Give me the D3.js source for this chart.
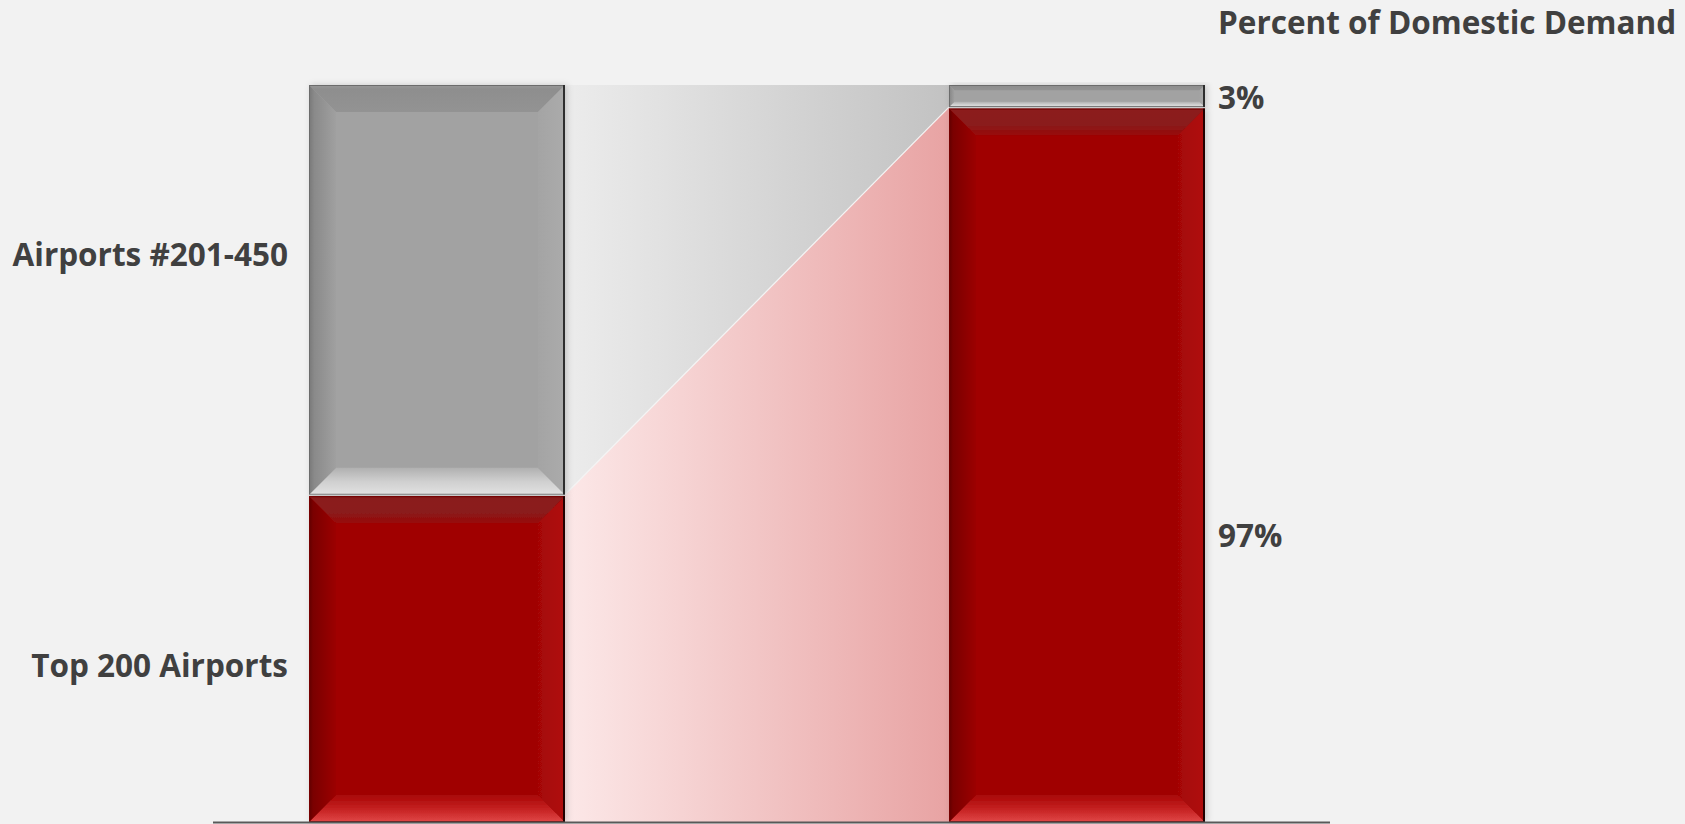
<!DOCTYPE html>
<html>
<head>
<meta charset="utf-8">
<script src="https://cdn.jsdelivr.net/npm/d3@7"></script>
<style>
  body { margin: 0; background: #f2f2f2; }
  svg text { font-family: "Open Sans", sans-serif; font-weight: 700; fill: #404040; }
</style>
</head>
<body>
<svg id="chart" width="1685" height="824"></svg>
<script>
// data
const columns = ["Share of Airports", "Percent of Domestic Demand"];
const segmentKeys = ["top", "rest"];
const segmentNames = ["Top 200 Airports", "Airports #201-450"];
const top200 = [44.4, 97];
const others = [55.6, 3];
const valueLabels = ["97%", "3%"];
const title = "Percent of Domestic Demand";

const svg = d3.select("#chart");

const table = columns.map((c, i) => ({ col: c, top: top200[i], rest: others[i] }));
const stacked = d3.stack().keys(segmentKeys)(table);

const x = d3.scaleBand().domain(columns).range([309, 1205]).paddingInner(0.6).paddingOuter(0);
const y = d3.scaleLinear().domain([0, 100]).range([822, 85]);
const bw = x.bandwidth();

const defs = svg.append("defs");
function grad(id, stops, vertical) {
    const g = defs.append("linearGradient").attr("id", id)
        .attr("x1", 0).attr("y1", 0)
        .attr("x2", vertical ? 0 : 1).attr("y2", vertical ? 1 : 0);
    stops.forEach(s => g.append("stop").attr("offset", s[0]).attr("stop-color", s[1]));
}

// connecting bands
grad("band-red", [[0, "#fce8e8"], [1, "#e8a3a3"]]);
grad("band-gray", [[0, "#ececec"], [1, "#c2c2c2"]]);

// bevel colours for each series
const bevel = {
    top: { base: "#a00404",
           top: [[0, "#8c1a1a"], [0.6, "#8a1c1c"], [1, "#980606"]],
           left: [[0, "#600000"], [0.15, "#7a0000"], [1, "#9c0404"]],
           right: [[0, "#a40606"], [1, "#b00c0c"]],
           bottom: [[0, "#a80707"], [0.5, "#c42020"], [1, "#e04646"]],
           edgeL: "#760000", edgeR: "#220000" },
    rest: { base: "#a2a2a2",
            top: [[0, "#999999"], [0.15, "#8e8e8e"], [1, "#939393"]],
            left: [[0, "#787878"], [0.2, "#8a8a8a"], [1, "#a0a0a0"]],
            right: [[0, "#a4a4a4"], [1, "#ababab"]],
            bottom: [[0, "#b0b0b0"], [0.5, "#cfcfcf"], [1, "#e2e2e2"]],
            edgeL: "#6c6c6c", edgeR: "#2e2e2e" }
};
Object.entries(bevel).forEach(([k, c]) => {
    grad(`bv-${k}-t`, c.top, true);
    grad(`bv-${k}-b`, c.bottom, true);
    grad(`bv-${k}-l`, c.left);
    grad(`bv-${k}-r`, c.right);
});

const shadow = defs.append("filter").attr("id", "shadow").attr("x", "-10%").attr("y", "-10%")
    .attr("width", "120%").attr("height", "120%");
shadow.append("feDropShadow").attr("dx", 2).attr("dy", 0).attr("stdDeviation", 3)
    .attr("flood-color", "#000").attr("flood-opacity", 0.18);

// connecting areas between the two bars
const lx = x(columns[0]) + bw, rx = x(columns[1]);
const band = d3.area()
    .x((d, i) => i === 0 ? lx : rx)
    .y0(d => y(d[0]))
    .y1(d => y(d[1]));

svg.append("g").selectAll("path")
    .data(stacked)
    .join("path")
    .attr("d", layer => band(layer))
    .attr("fill", layer => layer.key === "top" ? "url(#band-red)" : "url(#band-gray)");

// thin light diagonal between the two bands
svg.append("line")
    .attr("x1", lx).attr("y1", y(top200[0]))
    .attr("x2", rx).attr("y2", y(top200[1]))
    .attr("stroke", "#f4f4f4").attr("stroke-width", 1.2);

// bars with bevel
const bars = svg.append("g");
stacked.forEach(layer => {
    const c = bevel[layer.key];
    layer.forEach(d => {
        const x0 = x(d.data.col), x1 = x0 + bw;
        const y0 = y(d[1]) + (layer.key === "rest" ? 0 : 1.5), y1 = y(d[0]);
        const h = y1 - y0;
        const b = Math.min(27, h * 0.24);
        const g = bars.append("g").attr("filter", "url(#shadow)");
        g.append("rect").attr("x", x0).attr("y", y0).attr("width", bw).attr("height", h).attr("fill", c.base);
        const poly = (pts, fill) => g.append("polygon").attr("points", pts.map(p => p.join(",")).join(" ")).attr("fill", fill);
        poly([[x0, y0], [x1, y0], [x1 - b, y0 + b], [x0 + b, y0 + b]], `url(#bv-${layer.key}-t)`);
        poly([[x0, y1], [x1, y1], [x1 - b, y1 - b], [x0 + b, y1 - b]], `url(#bv-${layer.key}-b)`);
        poly([[x0, y0], [x0 + b, y0 + b], [x0 + b, y1 - b], [x0, y1]], `url(#bv-${layer.key}-l)`);
        poly([[x1, y0], [x1 - b, y0 + b], [x1 - b, y1 - b], [x1, y1]], `url(#bv-${layer.key}-r)`);
        g.append("rect").attr("x", x0 + 0.5).attr("y", y0 + 0.5).attr("width", bw - 1).attr("height", h - 1)
            .attr("fill", "none").attr("stroke", c.edgeL).attr("stroke-width", 1);
        g.append("line").attr("x1", x1 - 1).attr("x2", x1 - 1).attr("y1", y0).attr("y2", y1)
            .attr("stroke", c.edgeR).attr("stroke-width", 2);
    });
});

// separator between the stacked segments
svg.append("g").selectAll("line")
    .data(table)
    .join("line")
    .attr("x1", d => x(d.col)).attr("x2", d => x(d.col) + bw)
    .attr("y1", d => y(d.top) + 0.5).attr("y2", d => y(d.top) + 0.5)
    .attr("stroke", "#c9c9c9").attr("stroke-width", 1);

// base line
svg.append("line")
    .attr("x1", x(columns[0]) - 96).attr("x2", x(columns[1]) + bw + 125)
    .attr("y1", y(0) + 0.5).attr("y2", y(0) + 0.5)
    .attr("stroke", "#595959").attr("stroke-width", 2);

// category labels on the left
const catOffsets = [19, -24];
svg.append("g").selectAll("text")
    .data(segmentNames)
    .join("text")
    .attr("x", x(columns[0]) - 21)
    .attr("y", (d, i) => y((i === 0 ? top200[0] / 2 : top200[0] + others[0] / 2)) + catOffsets[i])
    .attr("text-anchor", "end")
    .style("font-size", "31.5px")
    .text(d => d);

// value labels on the right
const valOffsets = [82, 13];
svg.append("g").selectAll("text")
    .data(valueLabels)
    .join("text")
    .attr("x", x(columns[1]) + bw + 13)
    .attr("y", (d, i) => y((i === 0 ? top200[1] / 2 : top200[1] + others[1] / 2)) + valOffsets[i])
    .style("font-size", "31.5px")
    .text(d => d);

svg.append("text")
    .attr("x", x(columns[1]) + bw + 13)
    .attr("y", 34)
    .style("font-size", "31.5px")
    .text(title);
</script>
</body>
</html>
